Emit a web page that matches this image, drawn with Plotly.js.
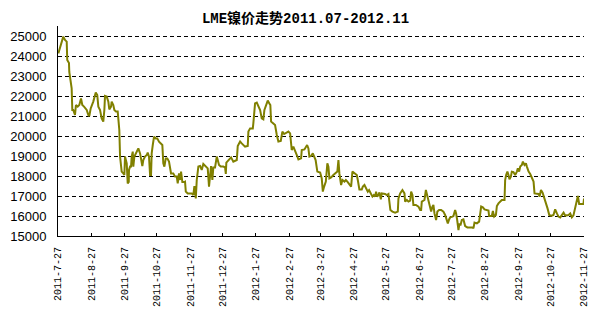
<!DOCTYPE html>
<html>
<head>
<meta charset="utf-8">
<script src="https://cdn.plot.ly/plotly-3.0.1.min.js"></script>
<style>html,body{margin:0;padding:0;background:#fff;}#chart{width:611px;height:313px;}</style>
</head>
<body>
<div id="chart"></div>
<script>
// Day offset from 2011-07-27 for each observation
const dayOffset = [0.3,1.9,4.9,6.5,8.1,8.6,10.2,10.5,11.8,12.7,13.3,14.2,15.8,16.7,18.3,19.8,21.4,22.6,24.2,26.7,28.2,29.1,30.4,32.8,35.1,36.5,37.5,39.1,40.6,42.1,43.1,43.7,45.3,46.8,47.7,49.3,49.9,51.4,52.4,53.9,55.5,56.1,57.0,57.7,58.3,59.2,60.7,61.7,62.3,63.2,63.9,64.8,65.8,66.0,67.0,67.9,68.5,69.5,70.0,71.0,72.5,74.7,76.3,77.2,78.4,79.3,80.9,82.5,83.4,84.6,85.6,86.5,87.1,88.1,89.3,90.9,92.3,93.9,95.8,97.0,97.9,98.9,100.2,101.6,103.2,104.2,105.1,107.2,108.8,110.4,111.3,112.5,113.5,114.4,115.6,117.5,118.1,118.8,120.6,124.3,125.8,126.8,128.1,129.0,130.5,132.1,133.6,135.1,137.4,139.2,140.4,141.4,142.3,143.5,144.4,146.0,147.6,148.5,149.7,151.3,153.7,155.3,156.0,156.5,158.4,160.9,163.0,164.6,166.2,167.1,169.3,170.8,172.3,173.9,176.4,177.0,178.6,181.1,181.6,183.2,184.8,186.3,187.9,189.4,190.9,191.9,193.4,195.0,196.5,197.4,198.1,200.2,201.8,203.4,204.9,207.1,208.6,210.2,212.0,214.2,215.8,216.7,217.3,218.8,220.4,222.0,223.5,226.0,226.6,229.1,231.6,232.8,233.7,235.3,236.9,238.4,239.5,241.1,243.7,245.2,246.2,247.4,249.0,250.4,251.4,252.3,253.9,256.0,258.3,259.7,260.7,261.6,263.2,264.4,266.3,267.6,269.0,270.6,272.5,273.7,275.6,277.8,278.7,280.2,282.4,283.4,284.9,286.2,288.0,289.2,291.1,292.3,293.6,294.8,295.7,296.7,297.9,298.8,300.1,301.0,304.1,305.7,307.2,308.1,309.0,310.9,313.4,315.9,316.5,318.1,320.2,322.1,322.7,324.3,325.8,327.4,328.3,329.5,330.4,332.7,335.1,336.7,337.6,338.2,340.7,342.0,343.2,344.4,346.0,346.9,348.1,349.0,350.0,351.5,352.7,354.3,356.2,358.3,359.9,361.5,362.4,363.6,364.6,366.7,367.6,369.2,370.1,371.1,372.3,373.2,374.1,375.4,376.9,378.5,380.6,383.2,385.3,386.2,387.2,389.4,391.5,393.4,395.0,396.5,398.7,400.2,400.8,403.3,404.3,405.5,407.1,408.0,409.5,411.1,412.6,415.1,415.7,416.6,417.8,418.8,419.7,421.0,421.9,423.4,425.0,426.6,427.5,428.7,429.7,431.2,432.2,433.7,435.0,435.9,437.5,439.0,440.6,442.1,443.0,445.3,446.8,447.7,449.0,450.5,452.1,453.7,455.1,456.7,458.5,460.6,462.2,463.8,465.3,466.9,468.4,470.0,471.5,473.1,474.7,476.2,477.7,479.2,480.8,482.4,483.3,484.5,487.0,488.5,489.0];

// LME nickel price (USD/t)
const price = [24130,24470,24970,24800,24720,23800,23650,23200,22800,22380,21300,21300,21050,21550,21470,21550,21880,21550,21470,21300,21050,21000,21380,21720,22170,22050,21470,21300,20880,20720,21300,22000,21970,21720,21330,21470,21720,21550,21300,21220,21220,20880,20300,18970,18630,18220,18130,18050,18970,18720,18630,17630,17700,18300,18470,18470,18970,19220,18470,18970,19130,19380,19130,18880,18500,18800,18970,19050,19170,18970,18050,18050,19130,19550,19970,19880,19880,19720,19630,19550,18630,18470,18880,18880,18720,18470,18130,18130,17970,17970,17630,18130,17800,18220,17700,17700,17720,17220,17130,17130,17050,17500,16880,17800,18470,18500,18300,18600,18500,18380,17470,18300,18500,17800,18430,18430,18970,18800,18550,18470,18470,18430,18100,18670,18800,18930,18720,18770,18800,19500,19720,19630,19550,19470,19500,20220,20380,20380,20630,21630,21670,21500,21300,20880,20830,21300,21550,21770,21630,21550,20720,20630,20550,20050,19720,19750,20220,20100,20170,20220,20130,19720,19300,19470,19300,19050,18830,18880,19300,19330,19550,19380,18970,19000,19130,18970,18800,18220,18170,17880,17220,17470,17720,18630,18470,17880,17930,18050,18130,18220,18800,18130,17550,17800,17720,17800,17720,17630,17470,18220,18130,18050,17800,17330,17330,17470,17550,17380,17220,17300,17130,16970,17050,16970,17220,16970,17050,17180,16830,17130,17100,17050,17100,16720,16300,16220,16170,16220,16880,17130,17300,17130,16720,16800,16720,16770,17220,17050,16550,16550,16470,16300,16300,16720,16800,17300,17050,16800,16550,16220,16470,16550,16130,15800,16220,16300,16300,16220,16050,15800,15630,15830,15930,15970,16000,16300,16130,15800,15300,15630,15530,15800,15830,15500,15430,15430,15430,15380,15670,15630,15720,16470,16430,16330,16300,16270,16000,16000,16250,15970,16050,16500,16630,16720,16800,16800,17800,18050,18220,18050,17830,17970,18220,18200,18050,18220,18380,18220,18470,18550,18720,18550,18630,18470,18220,18100,17930,17720,17130,17130,17100,16970,17300,17170,16930,16630,16380,16050,16000,16050,16330,16130,15970,15930,16050,16170,16020,16050,16050,16130,15930,16030,16380,16670,17000,16600,16600,16600,16870];

const tickDates = ['2011-07-27','2011-08-27','2011-09-27','2011-10-27','2011-11-27','2011-12-27','2012-01-27','2012-02-27','2012-03-27','2012-04-27','2012-05-27','2012-06-27','2012-07-27','2012-08-27','2012-09-27','2012-10-27','2012-11-27'];
const tickLabels = ['2011-7-27','2011-8-27','2011-9-27','2011-10-27','2011-11-27','2011-12-27','2012-1-27','2012-2-27','2012-3-27','2012-4-27','2012-5-27','2012-6-27','2012-7-27','2012-8-27','2012-9-27','2012-10-27','2012-11-27'];
const yTicks = [15000,16000,17000,18000,19000,20000,21000,22000,23000,24000,25000];

if (dayOffset.length !== price.length) console.error('length mismatch', dayOffset.length, price.length);

const base = Date.UTC(2011, 6, 27);
const dates = dayOffset.map(d => new Date(base + d * 86400000).toISOString().slice(0, 19).replace('T', ' '));

const trace = {
  x: dates, y: price, type: 'scatter', mode: 'lines',
  line: {color: '#808000', width: 2}, hoverinfo: 'skip'
};

const layout = {
  width: 611, height: 313,
  margin: {l: 58, r: 27, t: 26, b: 77},
  paper_bgcolor: '#ffffff', plot_bgcolor: '#ffffff',
  showlegend: false,
  title: {
    text: '<b>LME镍价走势2011.07-2012.11</b>',
    font: {family: 'Liberation Mono, Noto Sans CJK SC', size: 14, color: '#000'},
    x: 0.5, xanchor: 'center', y: 0.9425, yanchor: 'middle', xref: 'container', yref: 'container'
  },
  xaxis: {
    type: 'date',
    range: ['2011-07-27', '2012-11-27'],
    tickmode: 'array', tickvals: tickDates, ticktext: tickLabels,
    tickangle: -90,
    tickfont: {family: 'Liberation Mono, DejaVu Sans Mono, monospace', size: 10, color: '#000'},
    ticks: 'inside', ticklen: 3, tickcolor: '#000', tickwidth: 1,
    showline: true, linecolor: '#000', linewidth: 1,
    showgrid: false, zeroline: false,
    ticklabelstandoff: 6
  },
  yaxis: {
    range: [15000, 25500],
    tickmode: 'array', tickvals: yTicks, ticktext: yTicks.map(String),
    tickfont: {family: 'Liberation Sans, Arial, sans-serif', size: 13, color: '#000'},
    ticks: '', showline: true, linecolor: '#000', linewidth: 1,
    showgrid: true, gridcolor: '#000', gridwidth: 1, griddash: '4px,3px',
    zeroline: false,
    ticklabelstandoff: 8
  }
};

Plotly.newPlot('chart', [trace], layout, {staticPlot: true, displayModeBar: false});
</script>
</body>
</html>
